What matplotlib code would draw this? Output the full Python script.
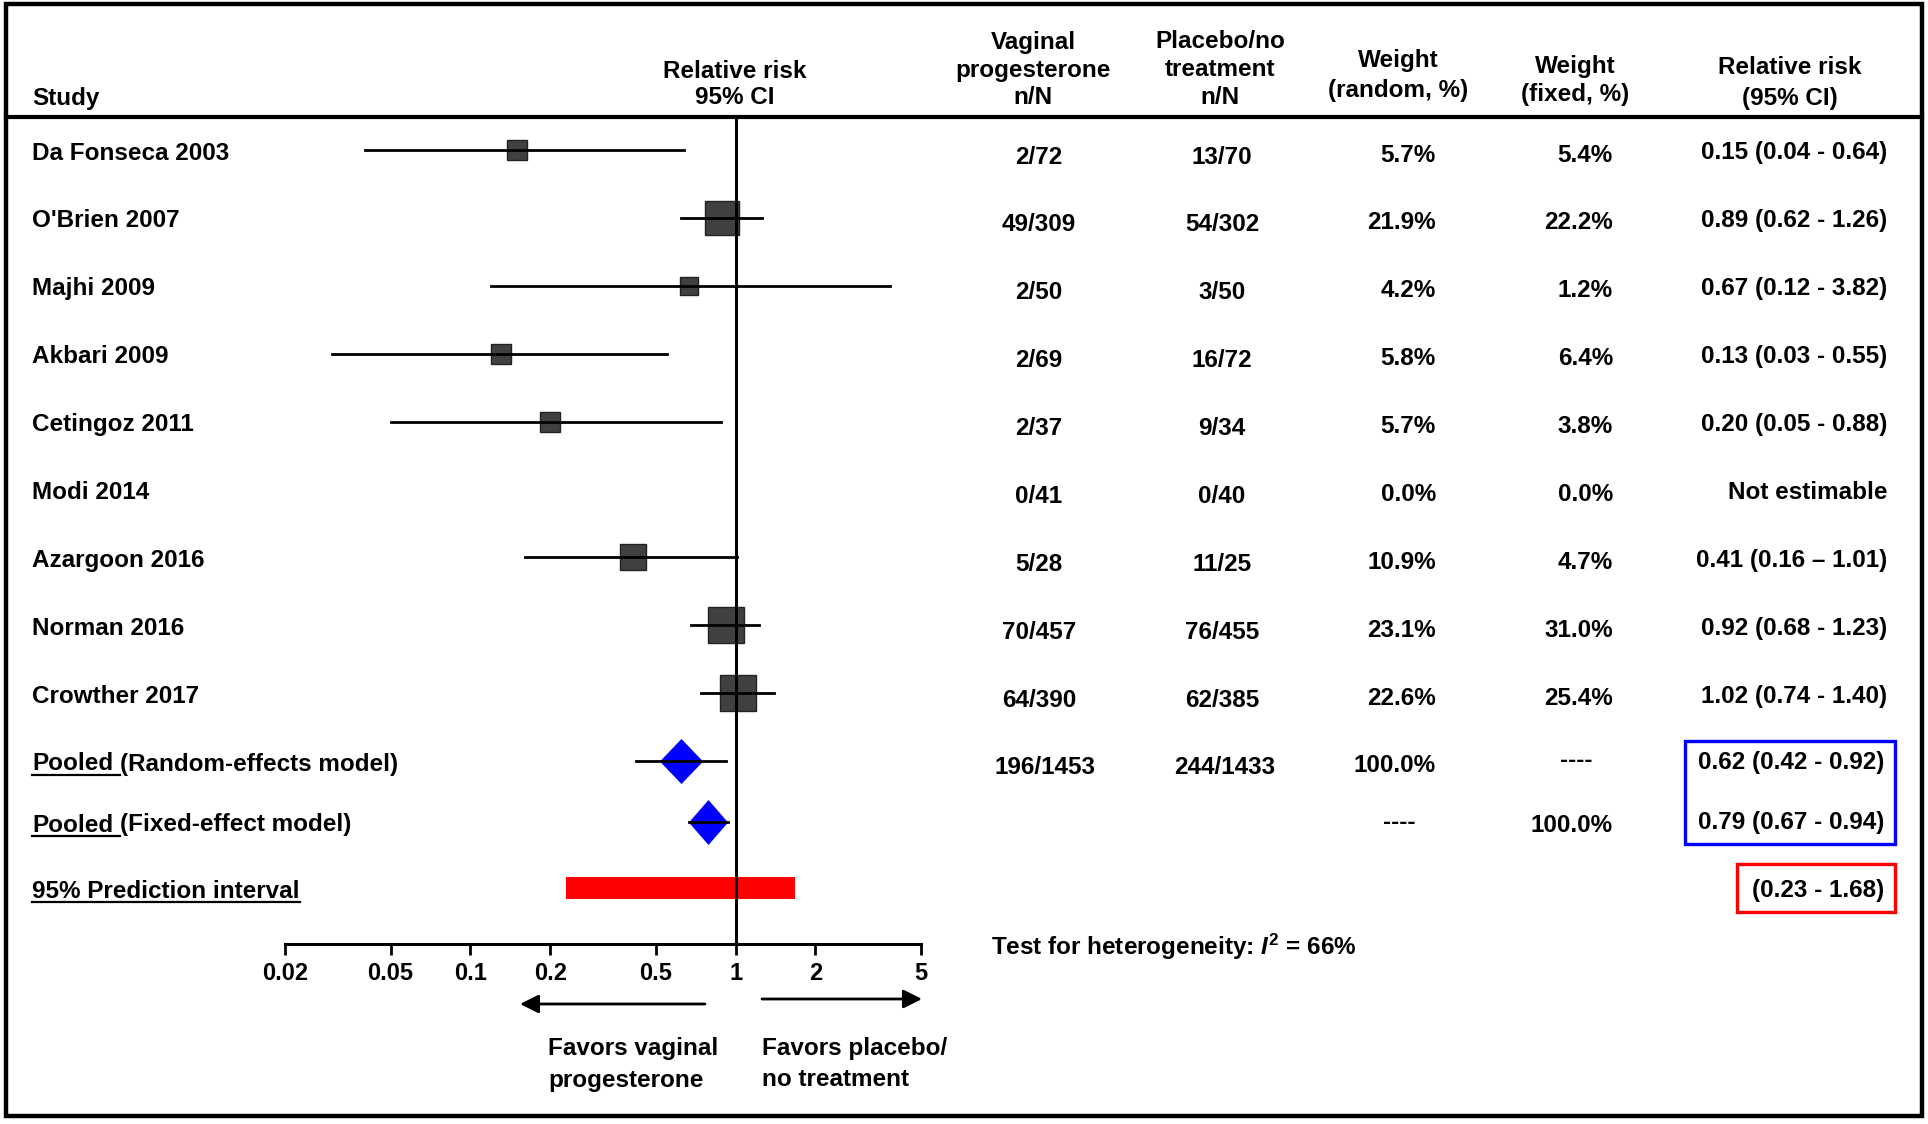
import matplotlib
matplotlib.use('Agg')
import matplotlib.pyplot as plt
import numpy as np
from matplotlib.patches import Rectangle

plt.rcParams['font.family'] = ['Liberation Sans', 'DejaVu Sans']
plt.rcParams['font.weight'] = 'bold'
plt.rcParams['mathtext.fontset'] = 'custom'
plt.rcParams['mathtext.rm'] = 'Liberation Sans:bold'
plt.rcParams['mathtext.it'] = 'Liberation Sans:italic:bold'

# ---- data ----
studies = ['Da Fonseca 2003', "O'Brien 2007", 'Majhi 2009', 'Akbari 2009',
           'Cetingoz 2011', 'Modi 2014', 'Azargoon 2016', 'Norman 2016',
           'Crowther 2017']
rr = [0.15, 0.89, 0.67, 0.13, 0.20, np.nan, 0.41, 0.92, 1.02]
ci_low = [0.04, 0.62, 0.12, 0.03, 0.05, np.nan, 0.16, 0.68, 0.74]
ci_high = [0.64, 1.26, 3.82, 0.55, 0.88, np.nan, 1.01, 1.23, 1.40]
vag_events = ['2/72', '49/309', '2/50', '2/69', '2/37', '0/41', '5/28',
              '70/457', '64/390']
plac_events = ['13/70', '54/302', '3/50', '16/72', '9/34', '0/40', '11/25',
               '76/455', '62/385']
w_random = [5.7, 21.9, 4.2, 5.8, 5.7, 0.0, 10.9, 23.1, 22.6]
w_fixed = [5.4, 22.2, 1.2, 6.4, 3.8, 0.0, 4.7, 31.0, 25.4]
rr_labels = ['0.15 (0.04 - 0.64)', '0.89 (0.62 - 1.26)', '0.67 (0.12 - 3.82)',
             '0.13 (0.03 - 0.55)', '0.20 (0.05 - 0.88)', 'Not estimable',
             '0.41 (0.16 \u2013 1.01)', '0.92 (0.68 - 1.23)',
             '1.02 (0.74 - 1.40)']

pooled_models = ['(Random-effects model)', '(Fixed-effect model)']
pooled_rr = [0.62, 0.79]
pooled_low = [0.42, 0.67]
pooled_high = [0.92, 0.94]
pooled_labels = ['0.62 (0.42 - 0.92)', '0.79 (0.67 - 0.94)']
pooled_vag = '196/1453'
pooled_plac = '244/1433'
pooled_w_random = ['100.0%', '----']
pooled_w_fixed = ['----', '100.0%']
pred_low, pred_high = 0.23, 1.68
pred_label = '(0.23 - 1.68)'
i2 = 66
ticks = [0.02, 0.05, 0.1, 0.2, 0.5, 1, 2, 5]
tick_labels = ['0.02', '0.05', '0.1', '0.2', '0.5', '1', '2', '5']

# ---- layout (pixels) ----
W, H = 1928, 1124
FS = 17.5
DY = 3  # nudge text down a little
row_y = 150 + 67.9 * np.arange(len(studies))
pooled_y = [761, 822]
pred_y = 888
axis_y = 944
head_y = 117
x_lbl = 32
x_vag, x_plac = 1039, 1222
x_wr, x_wf, x_rr = 1436, 1613, 1887
c_wr, c_wf = 1399, 1576

fig = plt.figure(figsize=(W / 100, H / 100), dpi=100)
bg = fig.add_axes([0, 0, 1, 1])
bg.set_xlim(0, W)
bg.set_ylim(H, 0)
bg.axis('off')

ax = fig.add_axes([285 / W, (H - axis_y) / H, (921 - 285) / W, (axis_y - head_y) / H])
ax.patch.set_visible(False)
ax.set_xscale('log')
ax.set_xlim(0.02, 5)
ax.set_ylim(axis_y, head_y)
for s in ['left', 'right', 'top']:
    ax.spines[s].set_visible(False)
ax.spines['bottom'].set_linewidth(2.2)
ax.set_yticks([])
ax.set_xticks(ticks)
ax.set_xticklabels(tick_labels)
ax.minorticks_off()
ax.tick_params(axis='x', direction='out', length=8, width=2, pad=5,
               labelsize=17)


def txt(x, y, s, ha='left'):
    return bg.text(x, y + DY, s, ha=ha, va='center', fontsize=FS)


# frame and header rule
bg.add_patch(Rectangle((6, 4), 1916, 1112, fill=False, ec='black', lw=3.2))
bg.plot([6, 1922], [head_y, head_y], color='black', lw=3)


def lines(x, ys, texts, ha='center'):
    for y, t in zip(ys, texts):
        txt(x, y, t, ha=ha)


# header
lines(x_lbl, [95], ['Study'], ha='left')
lines(735, [68, 95], ['Relative risk', '95% CI'])
lines(1033, [39, 67, 95], ['Vaginal', 'progesterone', 'n/N'])
lines(1220, [39, 67, 95], ['Placebo/no', 'treatment', 'n/N'])
lines(1398, [58, 87], ['Weight', '(random, %)'])
lines(1575, [63, 92], ['Weight', '(fixed, %)'])
lines(1790, [65, 95], ['Relative risk', '(95% CI)'])

# study rows
for i, y in enumerate(row_y):
    txt(x_lbl, y, studies[i])
    txt(x_vag, y + 4, vag_events[i], ha='center')
    txt(x_plac, y + 4, plac_events[i], ha='center')
    txt(x_wr, y + 2, f'{w_random[i]:.1f}%', ha='right')
    txt(x_wf, y + 2, f'{w_fixed[i]:.1f}%', ha='right')
    txt(x_rr, y, rr_labels[i], ha='right')
    if not np.isnan(rr[i]):
        ax.plot([ci_low[i], ci_high[i]], [y, y], color='black', lw=2, zorder=4)
        size_px = 3.3 + 6.7 * np.sqrt(w_random[i])
        ax.plot(rr[i], y, marker='s', ms=size_px * 0.72, mfc='#404040',
                mec='#222222', mew=1, zorder=3)

# pooled rows
diamonds = [[(0, 1), (0.96, 0), (0, -1), (-0.96, 0)],
            [(0, 1), (0.87, 0), (0, -1), (-0.87, 0)]]
fig.canvas.draw()
rend = fig.canvas.get_renderer()
inv = bg.transData.inverted()


def text_width(t):
    bb = t.get_window_extent(rend)
    (x0, _), (x1, _) = inv.transform([(bb.x0, bb.y0), (bb.x1, bb.y1)])
    return x1 - x0


tmp = bg.text(0, 0, 'a a', fontsize=FS)
tmp2 = bg.text(0, 0, 'aa', fontsize=FS)
space = text_width(tmp) - text_width(tmp2)
tmp.remove()
tmp2.remove()

for k, y in enumerate(pooled_y):
    t = txt(x_lbl, y, 'Pooled')
    w = text_width(t)
    bg.plot([x_lbl, x_lbl + w + space], [y + 14, y + 14], color='black', lw=1.6)
    txt(x_lbl + w + space, y, pooled_models[k])
    if pooled_w_random[k] == '----':
        txt(c_wr, y - 3, pooled_w_random[k], ha='center')
    else:
        txt(x_wr, y + 2, pooled_w_random[k], ha='right')
    if pooled_w_fixed[k] == '----':
        txt(c_wf, y - 3, pooled_w_fixed[k], ha='center')
    else:
        txt(x_wf, y, pooled_w_fixed[k], ha='right')
    txt(x_rr - 3, y - 2, pooled_labels[k], ha='right')
    ax.plot(pooled_rr[k], y, marker=diamonds[k], ms=32.4, mfc='#0000FF',
            mec='#0000FF', mew=0, zorder=3)
    ax.plot([pooled_low[k], pooled_high[k]], [y, y], color='black', lw=2, zorder=4)

txt(x_vag + 6, pooled_y[0] + 3, pooled_vag, ha='center')
txt(x_plac + 3, pooled_y[0] + 3, pooled_plac, ha='center')

# prediction interval
t = txt(x_lbl, pred_y, '95% Prediction interval')
w = text_width(t)
bg.plot([x_lbl, x_lbl + w], [pred_y + 14, pred_y + 14], color='black', lw=1.6)
ax.barh(pred_y, pred_high - pred_low, left=pred_low, height=22,
        color='#FF0000', zorder=2)
txt(x_rr - 3, pred_y, pred_label, ha='right')

# boxes around pooled results
bg.add_patch(Rectangle((1685, 741), 210, 103, fill=False, ec='#0000FF', lw=2.4))
bg.add_patch(Rectangle((1737, 864), 158, 48, fill=False, ec='#FF0000', lw=2.4))

# line of no effect
ax.axvline(1, color='black', lw=2.2, zorder=6)

# heterogeneity
txt(991, axis_y, 'Test for heterogeneity: $\\mathit{I}^{2}$ = ' + f'{i2}%')

# favours arrows
arrow = dict(arrowstyle='-|>', lw=2, color='black', mutation_scale=28,
             shrinkA=0, shrinkB=0)
bg.annotate('', xy=(520, 1004), xytext=(705, 1004), arrowprops=arrow)
bg.annotate('', xy=(922, 999), xytext=(762, 999), arrowprops=arrow)
lines(548, [1046, 1077], ['Favors vaginal', 'progesterone'], ha='left')
lines(762, [1046, 1077], ['Favors placebo/', 'no treatment'], ha='left')

fig.savefig('out.png', dpi=100)
